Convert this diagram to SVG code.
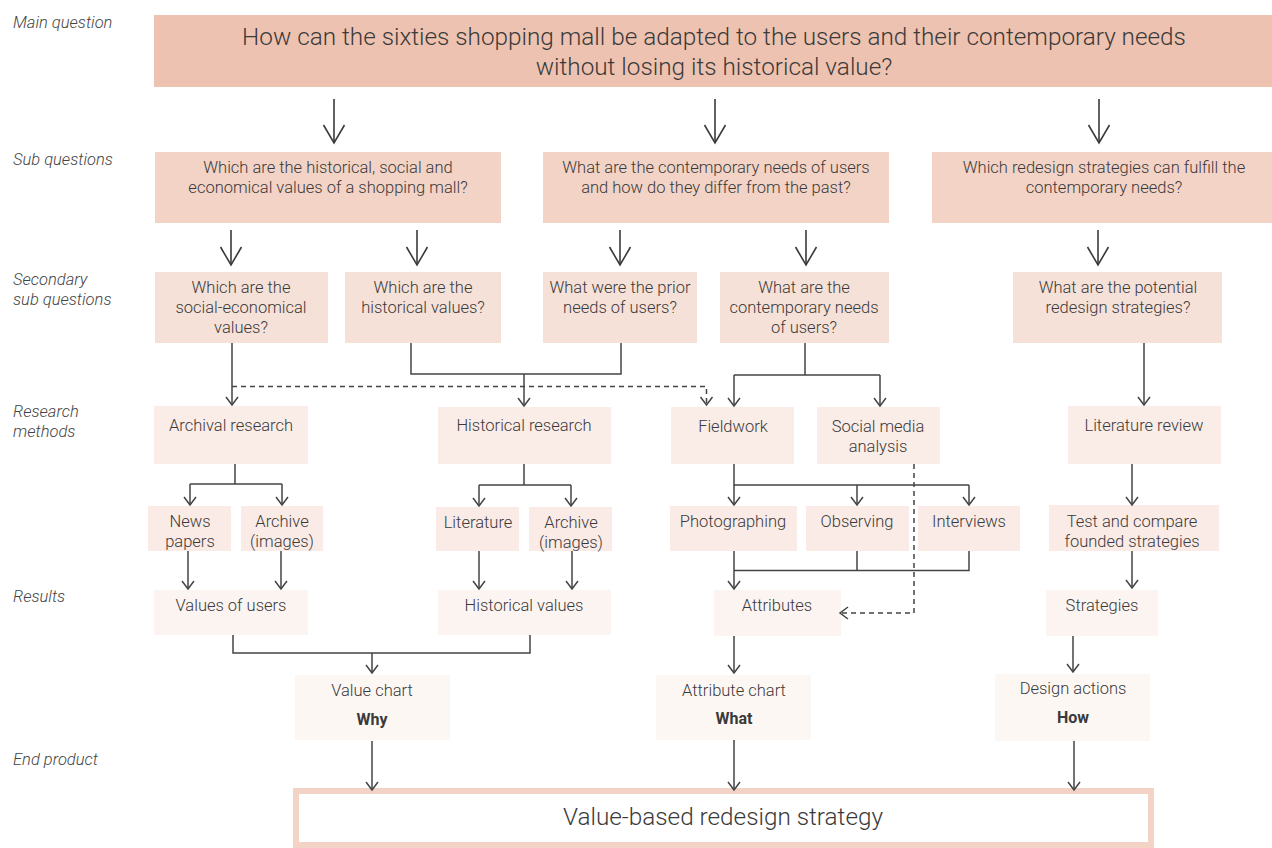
<svg xmlns="http://www.w3.org/2000/svg" width="1272" height="848" viewBox="0 0 1272 848">
<style>
.t{font-family:Roboto,"Liberation Sans",sans-serif;font-weight:300;fill:#3a3a3a;font-size:16.5px;text-anchor:middle}
.big{font-size:24.3px}
.b{font-weight:700;font-size:16px}
.lbl{font-family:Roboto,"Liberation Sans",sans-serif;font-weight:300;fill:#444;font-size:16.5px;font-style:italic}
.c{fill:none;stroke:#444;stroke-width:1.5}
.bc{fill:none;stroke:#3a3a3a;stroke-width:1.6}
.d{stroke-dasharray:5 4}
.m{fill:#eec2b0}.s{fill:#f2d3c6}.ss{fill:#f6e1d8}.r{fill:#faece7}.r2{fill:#faebe6}.rs{fill:#fcf4f1}.e{fill:#fdf7f4}
</style>
<defs>
<marker id="sm" viewBox="-10 -8 12 16" refX="0" refY="0" markerWidth="12" markerHeight="16" orient="auto" markerUnits="userSpaceOnUse" overflow="visible"><path d="M-8,-6 L0,0 L-8,6" fill="none" stroke="#444" stroke-width="1.5"/></marker>
<marker id="bg" viewBox="-20 -12 22 24" refX="0" refY="0" markerWidth="22" markerHeight="24" orient="auto" markerUnits="userSpaceOnUse" overflow="visible"><path d="M-18,-10.5 L0,0 L-18,10.5" fill="none" stroke="#3a3a3a" stroke-width="1.6"/></marker>
</defs>
<rect width="1272" height="848" fill="#fff"/>
<g id="labels">
<text class="lbl" x="13" y="28">Main question</text>
<text class="lbl" x="13" y="165">Sub questions</text>
<text class="lbl" x="13" y="285">Secondary</text>
<text class="lbl" x="13" y="305">sub questions</text>
<text class="lbl" x="13" y="417">Research</text>
<text class="lbl" x="13" y="437">methods</text>
<text class="lbl" x="13" y="602">Results</text>
<text class="lbl" x="13" y="765">End product</text>
</g>
<g id="main"><rect class="m" x="154" y="15" width="1118" height="72"/>
<text class="t big" x="714" y="45">How can the sixties shopping mall be adapted to the users and their contemporary needs</text>
<text class="t big" x="714" y="75">without losing its historical value?</text></g>
<g id="sq1"><rect class="s" x="155" y="152" width="346" height="71"/><text class="t" x="328" y="173">Which are the historical, social and</text><text class="t" x="328" y="193">economical values of a shopping mall?</text></g>
<g id="sq2"><rect class="s" x="543" y="152" width="346" height="71"/><text class="t" x="716" y="173">What are the contemporary needs of users</text><text class="t" x="716" y="193">and how do they differ from the past?</text></g>
<g id="sq3"><rect class="s" x="932" y="152" width="340" height="71"/><text class="t" x="1104" y="173">Which redesign strategies can fulfill the</text><text class="t" x="1104" y="193">contemporary needs?</text></g>
<g id="ss1"><rect class="ss" x="155" y="272" width="173" height="71"/><text class="t" x="241" y="293">Which are the</text><text class="t" x="241" y="313">social-economical</text><text class="t" x="241" y="333">values?</text></g>
<g id="ss2"><rect class="ss" x="345" y="272" width="156" height="71"/><text class="t" x="423" y="293">Which are the</text><text class="t" x="423" y="313">historical values?</text></g>
<g id="ss3"><rect class="ss" x="543" y="272" width="154" height="71"/><text class="t" x="620" y="293">What were the prior</text><text class="t" x="620" y="313">needs of users?</text></g>
<g id="ss4"><rect class="ss" x="720" y="272" width="169" height="71"/><text class="t" x="804" y="293">What are the</text><text class="t" x="804" y="313">contemporary needs</text><text class="t" x="804" y="333">of users?</text></g>
<g id="ss5"><rect class="ss" x="1013" y="272" width="209" height="71"/><text class="t" x="1118" y="293">What are the potential</text><text class="t" x="1118" y="313">redesign strategies?</text></g>
<g id="rm1"><rect class="r" x="154" y="406" width="154" height="58"/><text class="t" x="231" y="431">Archival research</text></g>
<g id="rm2"><rect class="r" x="438" y="407" width="173" height="57"/><text class="t" x="524" y="431">Historical research</text></g>
<g id="rm3"><rect class="r" x="671" y="407" width="123" height="57"/><text class="t" x="733" y="432">Fieldwork</text></g>
<g id="rm4"><rect class="r" x="817" y="407" width="123" height="57"/><text class="t" x="878" y="432">Social media</text><text class="t" x="878" y="452">analysis</text></g>
<g id="rm5"><rect class="r" x="1068" y="406" width="153" height="58"/><text class="t" x="1144" y="431">Literature review</text></g>
<g id="n1"><rect class="r2" x="148" y="506" width="83" height="45"/><text class="t" x="190" y="527">News</text><text class="t" x="190" y="547">papers</text></g>
<g id="n2"><rect class="r2" x="241" y="506" width="82" height="45"/><text class="t" x="282" y="527">Archive</text><text class="t" x="282" y="547">(images)</text></g>
<g id="n3"><rect class="r2" x="436" y="507" width="83" height="44"/><text class="t" x="478" y="528">Literature</text></g>
<g id="n4"><rect class="r2" x="529" y="507" width="83" height="44"/><text class="t" x="571" y="528">Archive</text><text class="t" x="571" y="548">(images)</text></g>
<g id="n5"><rect class="r2" x="670" y="506" width="127" height="45"/><text class="t" x="733" y="527">Photographing</text></g>
<g id="n6"><rect class="r2" x="806" y="506" width="103" height="45"/><text class="t" x="857" y="527">Observing</text></g>
<g id="n7"><rect class="r2" x="918" y="506" width="102" height="45"/><text class="t" x="969" y="527">Interviews</text></g>
<g id="n8"><rect class="r2" x="1049" y="505" width="170" height="46"/><text class="t" x="1132" y="527">Test and compare</text><text class="t" x="1132" y="547">founded strategies</text></g>
<g id="res1"><rect class="rs" x="154" y="590" width="154" height="45"/><text class="t" x="231" y="611">Values of users</text></g>
<g id="res2"><rect class="rs" x="438" y="590" width="173" height="45"/><text class="t" x="524" y="611">Historical values</text></g>
<g id="res3"><rect class="rs" x="714" y="590" width="127" height="46"/><text class="t" x="777" y="611">Attributes</text></g>
<g id="res4"><rect class="rs" x="1046" y="590" width="112" height="46"/><text class="t" x="1102" y="611">Strategies</text></g>
<g id="ep1"><rect class="e" x="295" y="675" width="155" height="65"/><text class="t" x="372" y="696">Value chart</text><text class="t b" x="372" y="725">Why</text></g>
<g id="ep2"><rect class="e" x="656" y="675" width="155" height="65"/><text class="t" x="734" y="696">Attribute chart</text><text class="t b" x="734" y="724">What</text></g>
<g id="ep3"><rect class="e" x="995" y="674" width="155" height="67"/><text class="t" x="1073" y="694">Design actions</text><text class="t b" x="1073" y="723">How</text></g>
<g id="final"><rect x="296" y="791" width="855" height="54" fill="#fff" stroke="#f2d3c6" stroke-width="6"/><text class="t big" x="723" y="825">Value-based redesign strategy</text></g>
<g id="connectors">
<path class="bc" marker-end="url(#bg)" d="M334,99V143"/>
<path class="bc" marker-end="url(#bg)" d="M715,99V143"/>
<path class="bc" marker-end="url(#bg)" d="M1099,99V143"/>
<path class="bc" marker-end="url(#bg)" d="M231,230V265"/>
<path class="bc" marker-end="url(#bg)" d="M417,230V265"/>
<path class="bc" marker-end="url(#bg)" d="M620,230V265"/>
<path class="bc" marker-end="url(#bg)" d="M806,230V265"/>
<path class="bc" marker-end="url(#bg)" d="M1098,230V265"/>
<path class="c" marker-end="url(#sm)" d="M232,343V405"/>
<path class="c d" marker-end="url(#sm)" d="M232,386.5H706.5V405"/>
<path class="c" d="M411,343V374H621V343"/>
<path class="c" marker-end="url(#sm)" d="M524,374V406"/>
<path class="c" d="M805,343V375M734,375H880"/>
<path class="c" marker-end="url(#sm)" d="M734,375V406"/>
<path class="c" marker-end="url(#sm)" d="M880,375V406"/>
<path class="c" marker-end="url(#sm)" d="M1144,343V405"/>
<path class="c" d="M235,464V484M190,484H282"/>
<path class="c" marker-end="url(#sm)" d="M190,484V505"/>
<path class="c" marker-end="url(#sm)" d="M282,484V505"/>
<path class="c" d="M524,464V485M479,485H571"/>
<path class="c" marker-end="url(#sm)" d="M479,485V506"/>
<path class="c" marker-end="url(#sm)" d="M571,485V506"/>
<path class="c" d="M734,464V485H969"/>
<path class="c" marker-end="url(#sm)" d="M734,485V505"/>
<path class="c" marker-end="url(#sm)" d="M857,485V505"/>
<path class="c" marker-end="url(#sm)" d="M969,485V505"/>
<path class="c d" marker-end="url(#sm)" d="M914,464V613H840"/>
<path class="c" marker-end="url(#sm)" d="M1132,464V505"/>
<path class="c" marker-end="url(#sm)" d="M188,551V589"/>
<path class="c" marker-end="url(#sm)" d="M281,551V589"/>
<path class="c" marker-end="url(#sm)" d="M479,551V589"/>
<path class="c" marker-end="url(#sm)" d="M572,551V589"/>
<path class="c" d="M857,551V570.5M969,551V570.5H734"/>
<path class="c" marker-end="url(#sm)" d="M734,551V589"/>
<path class="c" marker-end="url(#sm)" d="M1132,551V588"/>
<path class="c" d="M233,635V653H530V635"/>
<path class="c" marker-end="url(#sm)" d="M372,653V673"/>
<path class="c" marker-end="url(#sm)" d="M734,636V673"/>
<path class="c" marker-end="url(#sm)" d="M1073,636V672"/>
<path class="c" marker-end="url(#sm)" d="M372,741V790"/>
<path class="c" marker-end="url(#sm)" d="M734,740V790"/>
<path class="c" marker-end="url(#sm)" d="M1074,741V790"/>
</g>
</svg>
